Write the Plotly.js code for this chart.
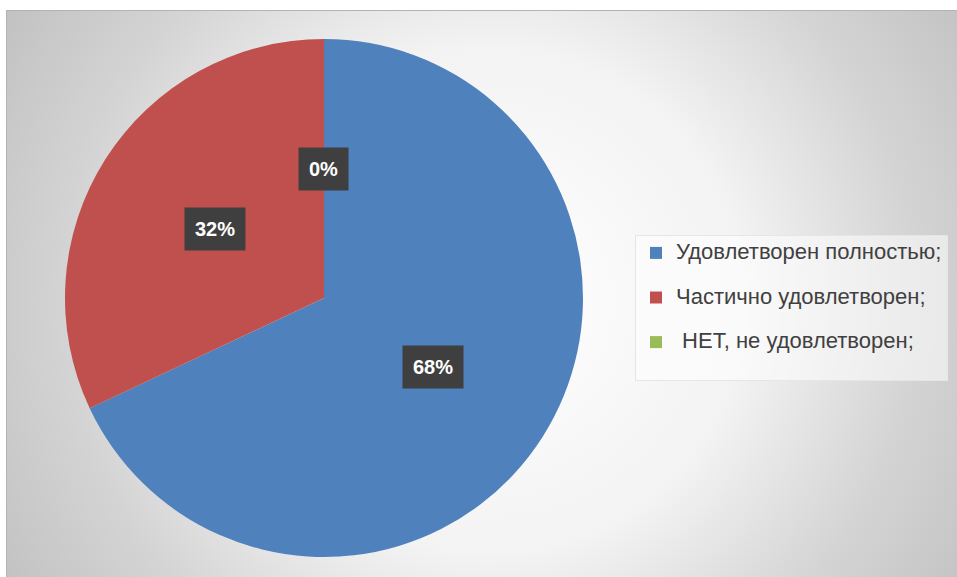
<!DOCTYPE html>
<html>
<head>
<meta charset="utf-8">
<script src="https://cdn.plot.ly/plotly-3.0.1.min.js"></script>
<style>
  html, body { margin: 0; padding: 0; background: #ffffff; }
  #wrap { position: relative; width: 957px; height: 577px; overflow: hidden; background: #ffffff; }
  #frame { position: absolute; left: 6px; top: 10px; width: 960px; height: 580px;
    border-left: 1px solid #b3b3b3; border-top: 1px solid #b3b3b3;
    background: radial-gradient(circle farthest-corner at 484px 290px, #ffffff 0%, #f3f3f3 45%, #d4d4d4 75%, #c2c2c2 100%); }
  #chart { position: absolute; left: 0; top: 0; width: 957px; height: 577px; }
</style>
</head>
<body>
<div id="wrap">
  <div id="frame"></div>
  <div id="chart"></div>
</div>
<script>
const categories = ['Удовлетворен полностью;', 'Частично удовлетворен;', ' НЕТ, не удовлетворен;'];
const values = [68, 32, 0];
const percentLabels = ['68%', '32%', '0%'];
const colors = ['#4f81bd', '#c0504d', '#9bbb59'];

const W = 957, H = 577;
const domX = [65 / W, 583 / W];
const domY = [1 - 557 / H, 1 - 39 / H];

// legend labels: larger visible text plus a blank line to reproduce the Office item spacing
const legendLabels = categories.map(c => '<span style="font-size:22px">' + c + '</span><br>&nbsp;');

const trace = {
  type: 'pie',
  labels: legendLabels,
  values: values,
  sort: false,
  direction: 'clockwise',
  rotation: 0,
  textinfo: 'none',
  hoverinfo: 'skip',
  marker: { colors: colors, line: { width: 0 } },
  domain: { x: domX, y: domY },
  showlegend: true
};

// data labels at half radius, placed from the slice angles
const total = values.reduce((a, b) => a + b, 0);
const cxPx = (domX[0] + domX[1]) / 2 * W;
const cyPx = (1 - (domY[0] + domY[1]) / 2) * H;
const Rpx = Math.min((domX[1] - domX[0]) * W, (domY[1] - domY[0]) * H) / 2;
let cum = 0;
const annotations = values.map((v, i) => {
  const mid = (cum + v / 2) / total * 2 * Math.PI;
  cum += v;
  const px = cxPx + 0.5 * Rpx * Math.sin(mid);
  const py = cyPx - 0.5 * Rpx * Math.cos(mid);
  return {
    xref: 'paper', yref: 'paper',
    x: px / W, y: 1 - py / H,
    xanchor: 'center', yanchor: 'middle',
    text: '<b>' + percentLabels[i] + '</b>',
    showarrow: false,
    bgcolor: '#3f3f3f',
    borderpad: 10,
    font: { family: 'Liberation Sans, Arial, sans-serif', size: 20, color: '#ffffff' }
  };
});

const layout = {
  width: W, height: H,
  margin: { l: 0, r: 0, t: 0, b: 0 },
  paper_bgcolor: 'rgba(0,0,0,0)',
  plot_bgcolor: 'rgba(0,0,0,0)',
  showlegend: true,
  legend: {
    x: 635 / W, y: 1 - 235 / H,
    xanchor: 'left', yanchor: 'top',
    valign: 'top',
    bgcolor: 'rgba(255,255,255,0.55)',
    bordercolor: '#e6e6e6',
    borderwidth: 1,
    font: { family: 'Liberation Sans, Arial, sans-serif', size: 16, color: '#404040' },
    itemclick: false, itemdoubleclick: false
  },
  annotations: annotations
};

Plotly.newPlot('chart', [trace], layout, { displayModeBar: false, staticPlot: true });
</script>
</body>
</html>
